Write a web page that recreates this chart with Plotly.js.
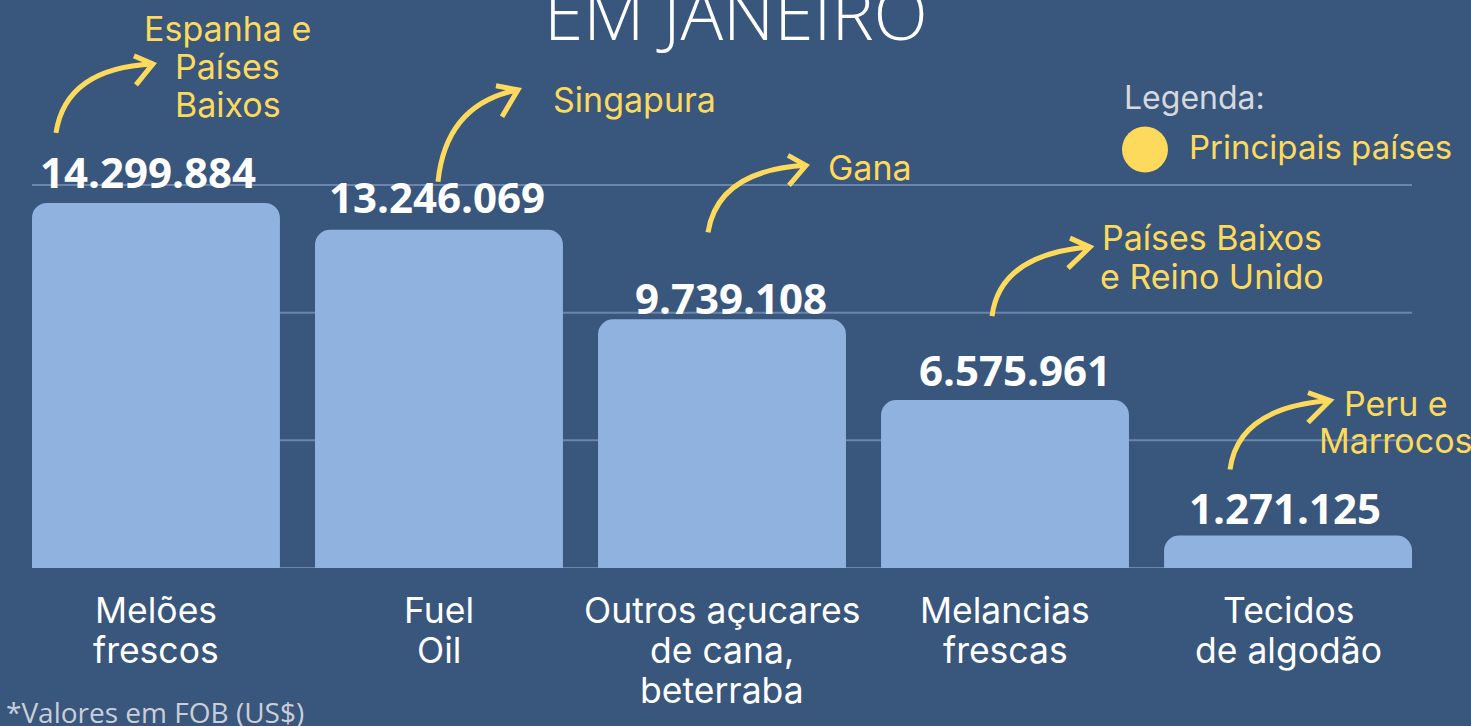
<!DOCTYPE html>
<html>
<head>
<meta charset="utf-8">
<script src="https://cdn.plot.ly/plotly-3.0.1.min.js"></script>
<style>
  html, body { margin: 0; padding: 0; background: #39567d; }
  #chart { width: 1471px; height: 726px; }
</style>
</head>
<body>
<div id="chart"></div>
<script>
// ---------- DATA ----------
const categories = ['Melões frescos', 'Fuel Oil', 'Outros açucares de cana, beterraba', 'Melancias frescas', 'Tecidos de algodão'];
const categoryLabels = [
  ['Melões', 'frescos'],
  ['Fuel', 'Oil'],
  ['Outros açucares', 'de cana,', 'beterraba'],
  ['Melancias', 'frescas'],
  ['Tecidos', 'de algodão']
];
const values = [14299884, 13246069, 9739108, 6575961, 1271125];
const mainCountries = [
  ['Espanha e', 'Países', 'Baixos'],
  ['Singapura'],
  ['Gana'],
  ['Países Baixos', 'e Reino Unido'],
  ['Peru e', 'Marrocos']
];
const gridValues = [0, 5000000, 10000000, 15000000];
const titleText = 'EM JANEIRO';
const legendTitle = 'Legenda:';
const legendLabel = 'Principais países';
const footnote = '*Valores em FOB (US$)';

// ---------- STYLE ----------
const W = 1471, H = 726;
const M = { l: 32, r: 59, t: 40, b: 158 };
const BG = '#39567d', BAR = '#8fb2df', YEL = '#fdda5c', GRID = '#6b86aa', WHITE = '#ffffff';
const plotW = W - M.l - M.r, plotH = H - M.t - M.b;
const px = x => (x - M.l) / plotW;          // pixel -> paper x
const py = y => (H - M.b - y) / plotH;      // pixel -> paper y

// value label offsets relative to bar top centre (pixels)
const valuePlace = [
  { dx: -8, dy: 31 },
  { dx: -2, dy: 33 },
  { dx: 9, dy: 22 },
  { dx: 10, dy: 31 },
  { dx: -3, dy: 28 }
];
// country label placement relative to bar top (pixels)
const countryPlace = [
  { xanchor: 'center', dx: 72, dy: [174, 136, 98] },
  { xanchor: 'left', dx: 112, dy: [130] },
  { xanchor: 'left', dx: 104, dy: [152] },
  { xanchor: 'center', dx: 207, dy: [163, 124] },
  { xanchor: 'center', dx: 108, dy: [132, 95] }
];
// arrow geometry relative to bar top centre (pixels, y up)
const arrowGeom = [
  { t: [-100, 70], c: [-90, 135], p: [-3, 139], a1: [-22, 147], a2: [-20, 118] },
  { t: [-1, 48], c: [7, 126], p: [79, 140], a1: [57, 144], a2: [63, 113] },
  { t: [-14, 87], c: [-4, 149], p: [84, 154], a1: [66, 164], a2: [67, 134] },
  { t: [-13, 84], c: [-5, 146], p: [85, 153], a1: [65, 162], a2: [63, 132] },
  { t: [-58, 66], c: [-50, 128], p: [42, 135], a1: [20, 143], a2: [20, 113] }
];

function fmt(v) {
  return String(v).replace(/\B(?=(\d{3})+(?!\d))/g, '.');
}

const trace = {
  type: 'bar',
  x: categories,
  y: values,
  marker: { color: BAR, cornerradius: 15, line: { width: 0 } },
  hoverinfo: 'none'
};

const annotations = [];
const shapes = [];

values.forEach((v, i) => {
  // value label
  annotations.push({
    x: categories[i], y: v, xref: 'x', yref: 'y',
    text: '<b>' + fmt(v) + '</b>', showarrow: false,
    xanchor: 'center', yanchor: 'middle',
    xshift: valuePlace[i].dx, yshift: valuePlace[i].dy,
    font: { family: 'Open Sans', size: 42, color: WHITE }
  });
  // category labels (one annotation per line)
  categoryLabels[i].forEach((line, j) => {
    annotations.push({
      x: categories[i], y: 0, xref: 'x', yref: 'y',
      text: line, showarrow: false,
      xanchor: 'center', yanchor: 'middle', yshift: -(42 + 40 * j),
      font: { family: 'Inter', size: 35.5, color: WHITE }
    });
  });
  // country labels
  const cp = countryPlace[i];
  mainCountries[i].forEach((line, j) => {
    annotations.push({
      x: categories[i], y: v, xref: 'x', yref: 'y',
      text: line, showarrow: false,
      xanchor: cp.xanchor, yanchor: 'middle', xshift: cp.dx, yshift: cp.dy[j],
      font: { family: 'Inter', size: 34, color: YEL }
    });
  });
  // curved arrow
  const g = arrowGeom[i];
  const P = a => a[0] + ',' + a[1];
  shapes.push({
    type: 'path', xref: 'x', yref: 'y',
    xsizemode: 'pixel', ysizemode: 'pixel', xanchor: i, yanchor: v,
    path: 'M' + P(g.t) + ' Q' + P(g.c) + ' ' + P(g.p) + ' M' + P(g.a1) + ' L' + P(g.p) + ' L' + P(g.a2),
    line: { color: YEL, width: 5 }, layer: 'above'
  });
});

// gridlines
gridValues.forEach(gv => {
  shapes.push({
    type: 'line', xref: 'paper', yref: 'y', x0: 0, x1: 1, y0: gv, y1: gv,
    line: { color: GRID, width: 2 }, layer: 'below'
  });
});

// legend
shapes.push({
  type: 'circle', xref: 'paper', yref: 'paper',
  xsizemode: 'pixel', ysizemode: 'pixel', xanchor: px(1145), yanchor: py(149.5),
  x0: -23, x1: 23, y0: -23, y1: 23,
  fillcolor: YEL, line: { width: 0 }
});
annotations.push({
  xref: 'paper', yref: 'paper', x: px(1122), y: py(97.5),
  xanchor: 'left', yanchor: 'middle', showarrow: false, text: legendTitle,
  font: { family: 'Inter', size: 32, color: '#d4d8df' }
});
annotations.push({
  xref: 'paper', yref: 'paper', x: px(1187), y: py(147),
  xanchor: 'left', yanchor: 'middle', showarrow: false, text: legendLabel,
  font: { family: 'Inter', size: 33, color: YEL }
});
// title
annotations.push({
  xref: 'paper', yref: 'paper', x: px(736.5), y: py(12),
  xanchor: 'center', yanchor: 'middle', showarrow: false, text: titleText,
  font: { family: 'Open Sans', size: 71, color: WHITE, weight: 300 }
});
// footnote
annotations.push({
  xref: 'paper', yref: 'paper', x: px(4), y: py(712),
  xanchor: 'left', yanchor: 'middle', showarrow: false, text: footnote,
  font: { family: 'Open Sans', size: 28, color: '#c9cfd9' }
});

const layout = {
  width: W, height: H,
  margin: M,
  paper_bgcolor: BG, plot_bgcolor: BG,
  showlegend: false,
  bargap: 0.124,
  xaxis: {
    type: 'category', range: [-0.438, 4.438],
    showticklabels: false, showgrid: false, zeroline: false, showline: false, ticks: ''
  },
  yaxis: {
    range: [0, 20680000], showticklabels: false, showgrid: false,
    zeroline: false, showline: false, ticks: ''
  },
  annotations: annotations,
  shapes: shapes
};

Plotly.newPlot('chart', [trace], layout, { displayModeBar: false, staticPlot: true });
</script>
</body>
</html>
